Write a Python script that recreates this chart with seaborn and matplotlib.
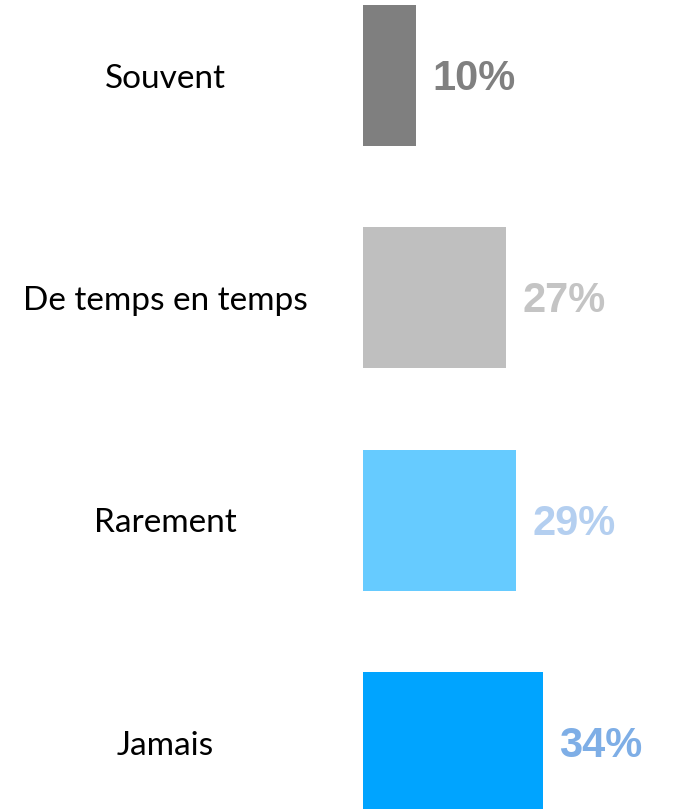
import matplotlib
matplotlib.use("Agg")
import matplotlib.pyplot as plt
import matplotlib.transforms as mtransforms
import pandas as pd
import seaborn as sns

# ── Data ────────────────────────────────────────────────────────────────────
categories = ["Souvent", "De temps en temps", "Rarement", "Jamais"]
shares = [10, 27, 29, 34]
bar_colors = ["#7f7f7f", "#bfbfbf", "#66cbff", "#00a4ff"]
label_colors = ["#808080", "#c4c4c4", "#b4cff0", "#7eaee6"]

df = pd.DataFrame({"answer": categories, "share": shares})

# ── Plot ────────────────────────────────────────────────────────────────────
sns.set_theme(style="white")
fig = plt.figure(figsize=(6.77, 8.09), dpi=100)
ax = fig.add_axes([363 / 677, 0, 314 / 677, 1])

sns.barplot(data=df, y="answer", x="share", hue="answer",
            palette=bar_colors, saturation=1, orient="h", width=0.634,
            linewidth=0, legend=False, ax=ax)

ax.set_xlim(0, 314 / 5.28)
ax.set_ylim(3.299, -0.340)
ax.set_axis_off()

# value labels right of the bars
for i, (v, c) in enumerate(zip(shares, label_colors)):
    ax.annotate(f"{v}%", xy=(v, i), xytext=(12, -2.5),
                textcoords="offset points", va="center", ha="left",
                fontsize=30, fontweight="bold", color=c,
                family=["Liberation Sans", "DejaVu Sans"])

# category labels, centred in the left column
shift = mtransforms.ScaledTranslation(0, -3 / 100, fig.dpi_scale_trans)
trans = mtransforms.blended_transform_factory(fig.transFigure, ax.transData) + shift
for i, name in enumerate(categories):
    ax.text(165 / 677, i, name, transform=trans, ha="center", va="center",
            fontsize=24, color="black", family=["Lato", "DejaVu Sans"],
            clip_on=False)

fig.savefig("out.png", dpi=100)
